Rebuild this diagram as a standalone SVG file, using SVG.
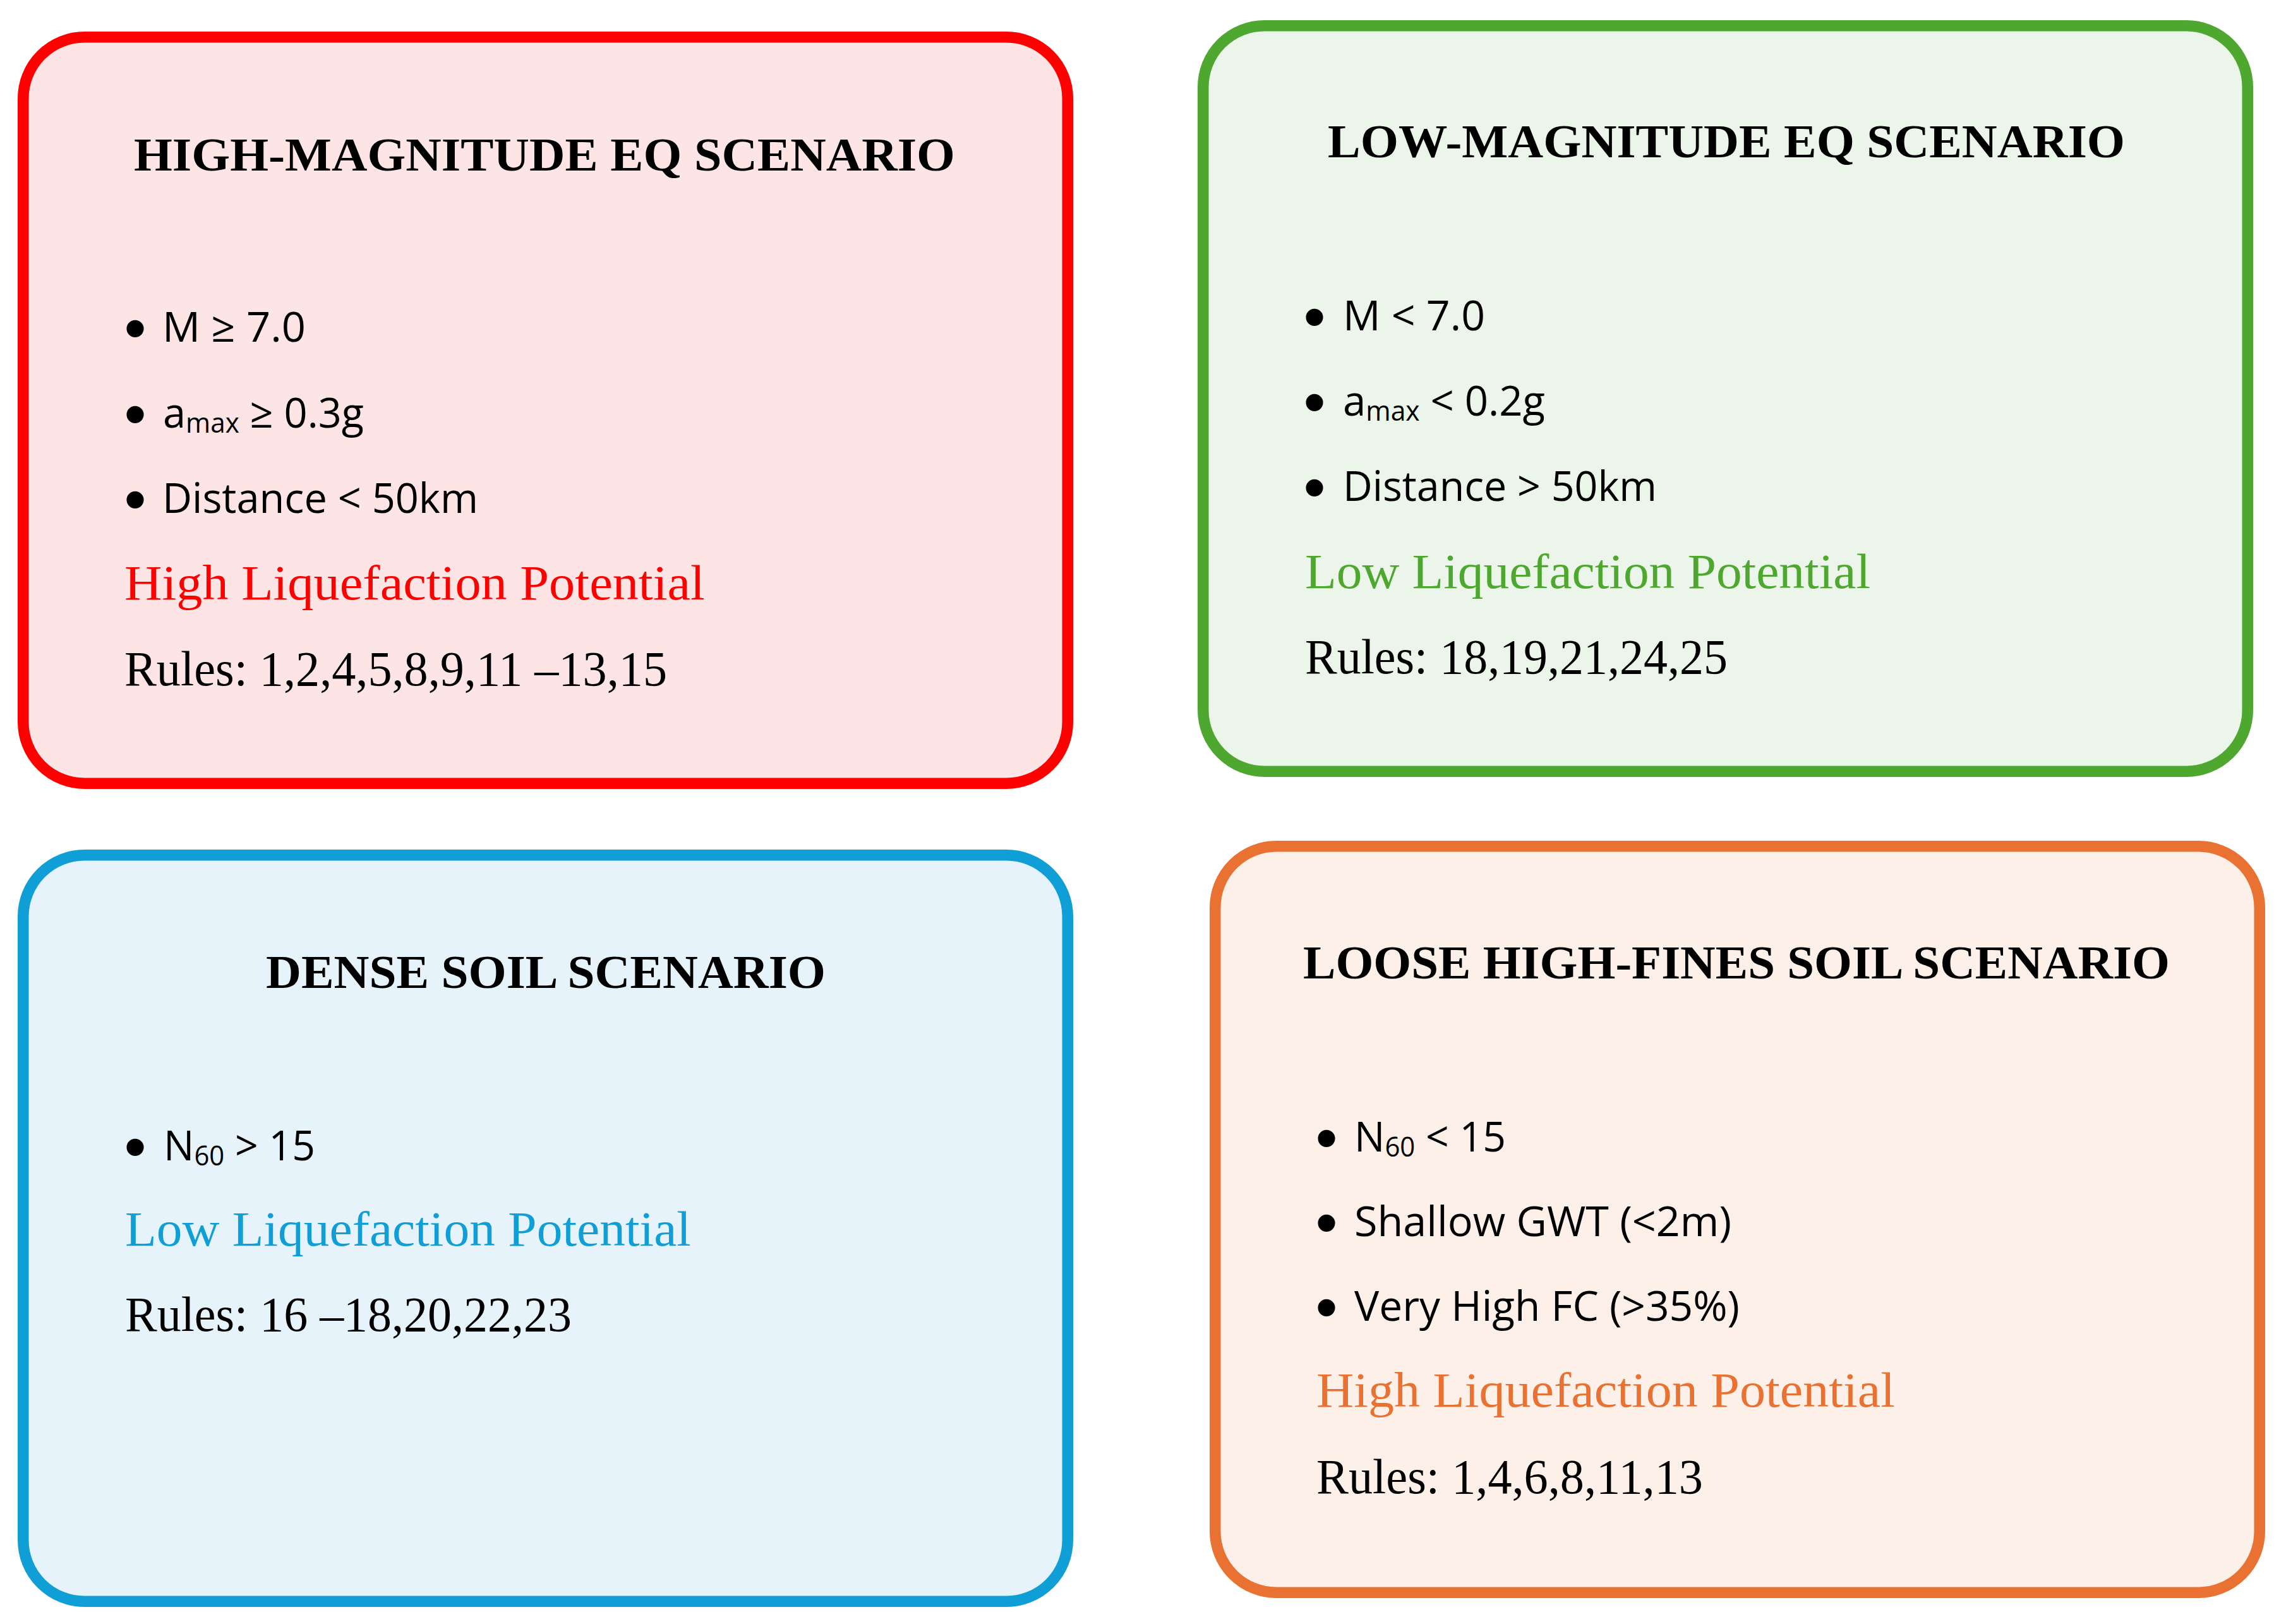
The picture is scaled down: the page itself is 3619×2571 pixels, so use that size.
<svg xmlns="http://www.w3.org/2000/svg" width="3619" height="2571" viewBox="0 0 3619 2571">
<style>
.box{stroke-width:17.5}
.title{font-family:"Liberation Serif","Times New Roman",serif;font-weight:bold;font-size:75px;fill:#000;text-anchor:middle}
.blt{font-family:"Open Sans","Liberation Sans",sans-serif;font-size:66px;fill:#000}
.dot{font-family:"Liberation Sans",Arial,sans-serif;font-size:100px;fill:#000;text-anchor:middle}
.sub{font-size:43px}
.liq{font-family:"Liberation Serif","Times New Roman",serif;font-size:79px}
.rules{font-family:"Liberation Serif","Times New Roman",serif;font-size:79px;fill:#000}
</style>
<rect width="3619" height="2571" fill="#FFFFFF"/>
<g id="high-magnitude">
<rect class="box" x="36.75" y="58.75" width="1653.5" height="1181.5" rx="97" fill="#FDE4E5" stroke="#FF0000"/>
<text class="title" x="862" y="270" textLength="1300" lengthAdjust="spacingAndGlyphs">HIGH-MAGNITUDE EQ SCENARIO</text>
<text class="dot" x="214" y="554">•</text>
<text class="blt" x="257" y="541" textLength="227" lengthAdjust="spacingAndGlyphs">M ≥ 7.0</text>
<text class="dot" x="214" y="690">•</text>
<text class="blt" x="258" y="677" textLength="318" lengthAdjust="spacingAndGlyphs">a<tspan class="sub" dy="8">max</tspan><tspan dy="-8"> ≥ 0.3g</tspan></text>
<text class="dot" x="214" y="825">•</text>
<text class="blt" x="257" y="812" textLength="500" lengthAdjust="spacingAndGlyphs">Distance &lt; 50km</text>
<text class="liq" x="197" y="949" fill="#FF0000" textLength="919" lengthAdjust="spacingAndGlyphs">High Liquefaction Potential</text>
<text class="rules" x="197" y="1085" textLength="859" lengthAdjust="spacingAndGlyphs">Rules: 1,2,4,5,8,9,11 –13,15</text>
</g>
<g id="low-magnitude">
<rect class="box" x="1904.75" y="40.75" width="1653.5" height="1180.5" rx="97" fill="#EBF5E9" stroke="#4EA72E"/>
<text class="title" x="2733" y="249" textLength="1262" lengthAdjust="spacingAndGlyphs">LOW-MAGNITUDE EQ SCENARIO</text>
<text class="dot" x="2081" y="536">•</text>
<text class="blt" x="2126" y="523" textLength="225" lengthAdjust="spacingAndGlyphs">M &lt; 7.0</text>
<text class="dot" x="2081" y="671">•</text>
<text class="blt" x="2126" y="658" textLength="320" lengthAdjust="spacingAndGlyphs">a<tspan class="sub" dy="8">max</tspan><tspan dy="-8"> &lt; 0.2g</tspan></text>
<text class="dot" x="2081" y="806">•</text>
<text class="blt" x="2126" y="793" textLength="497" lengthAdjust="spacingAndGlyphs">Distance &gt; 50km</text>
<text class="liq" x="2066" y="931" fill="#4EA72E" textLength="895" lengthAdjust="spacingAndGlyphs">Low Liquefaction Potential</text>
<text class="rules" x="2066" y="1066" textLength="669" lengthAdjust="spacingAndGlyphs">Rules: 18,19,21,24,25</text>
</g>
<g id="dense-soil">
<rect class="box" x="36.75" y="1353.75" width="1653.5" height="1181.5" rx="97" fill="#E6F3FA" stroke="#0F9ED5"/>
<text class="title" x="864" y="1564" textLength="886" lengthAdjust="spacingAndGlyphs">DENSE SOIL SCENARIO</text>
<text class="dot" x="214" y="1850">•</text>
<text class="blt" x="259" y="1837" textLength="240" lengthAdjust="spacingAndGlyphs">N<tspan class="sub" dy="8">60</tspan><tspan dy="-8"> &gt; 15</tspan></text>
<text class="liq" x="198" y="1972" fill="#0F9ED5" textLength="896" lengthAdjust="spacingAndGlyphs">Low Liquefaction Potential</text>
<text class="rules" x="198" y="2107" textLength="707" lengthAdjust="spacingAndGlyphs">Rules: 16 –18,20,22,23</text>
</g>
<g id="loose-soil">
<rect class="box" x="1923.75" y="1339.75" width="1653.5" height="1181.5" rx="97" fill="#FDF0E9" stroke="#E97132"/>
<text class="title" x="2749" y="1549" textLength="1372" lengthAdjust="spacingAndGlyphs">LOOSE HIGH-FINES SOIL SCENARIO</text>
<text class="dot" x="2100" y="1836">•</text>
<text class="blt" x="2144" y="1823" textLength="240" lengthAdjust="spacingAndGlyphs">N<tspan class="sub" dy="8">60</tspan><tspan dy="-8"> &lt; 15</tspan></text>
<text class="dot" x="2100" y="1970">•</text>
<text class="blt" x="2144" y="1957" textLength="597" lengthAdjust="spacingAndGlyphs">Shallow GWT (&lt;2m)</text>
<text class="dot" x="2100" y="2104">•</text>
<text class="blt" x="2144" y="2091" textLength="610" lengthAdjust="spacingAndGlyphs">Very High FC (&gt;35%)</text>
<text class="liq" x="2084" y="2227" fill="#E97132" textLength="916" lengthAdjust="spacingAndGlyphs">High Liquefaction Potential</text>
<text class="rules" x="2084" y="2364" textLength="612" lengthAdjust="spacingAndGlyphs">Rules: 1,4,6,8,11,13</text>
</g>
<g id="connectors"></g>
</svg>
